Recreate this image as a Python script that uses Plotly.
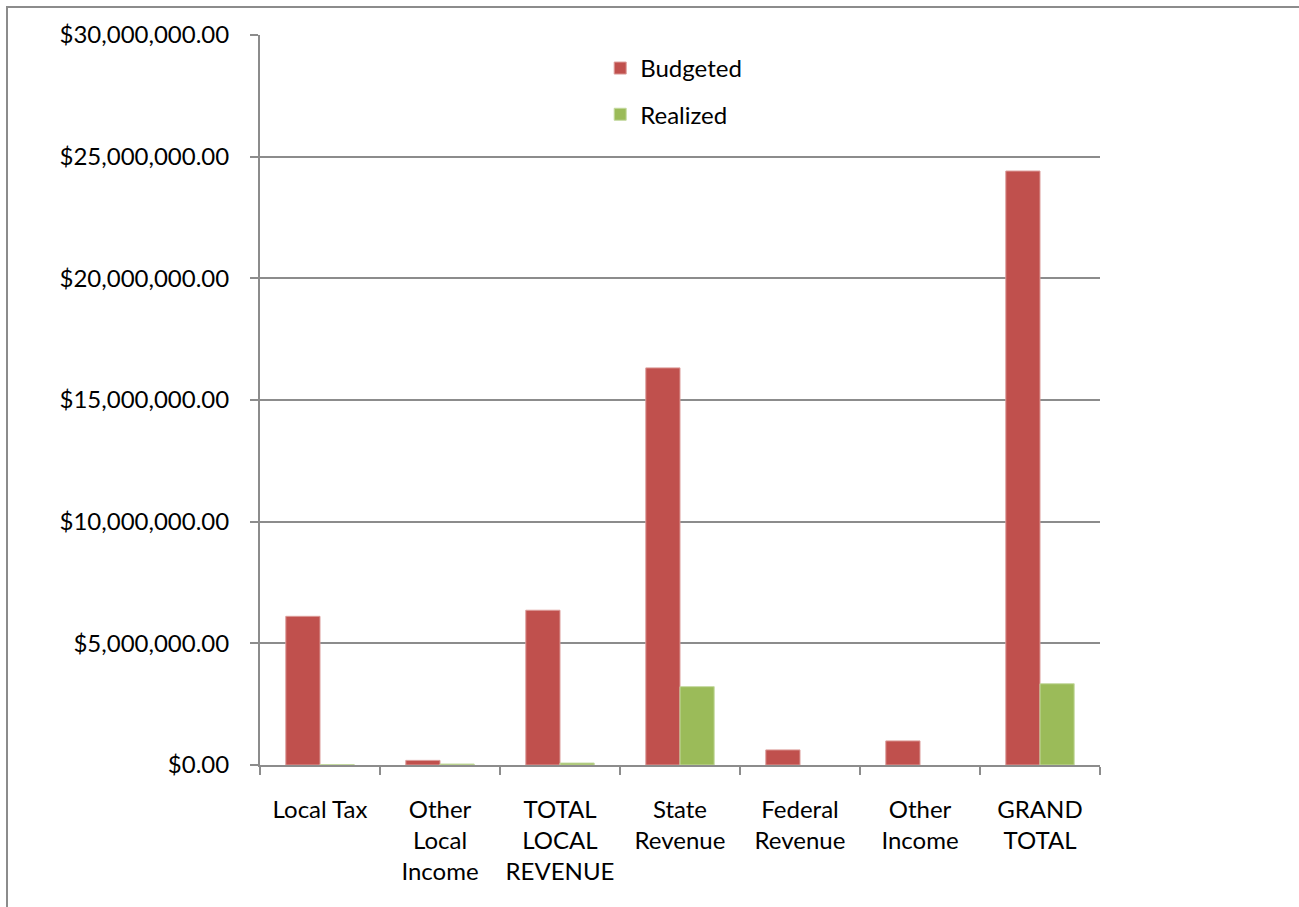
import plotly.graph_objects as go

categories = ["Local Tax", "Other<br>Local<br>Income", "TOTAL<br>LOCAL<br>REVENUE",
              "State<br>Revenue", "Federal<br>Revenue", "Other<br>Income", "GRAND<br>TOTAL"]
budgeted = [6110000, 190000, 6360000, 16320000, 620000, 990000, 24410000]
realized = [20000, 40000, 80000, 3220000, 0, 0, 3340000]
y_ticks = [0, 5000000, 10000000, 15000000, 20000000, 25000000, 30000000]

FONT = "Lato, 'Open Sans', sans-serif"
GRID = "#8c8c8c"

def edge_widths(vals):
    return [1 if v > 0 else 0 for v in vals]

fig = go.Figure()
fig.add_trace(go.Bar(x=categories, y=budgeted, name="Budgeted", legendgroup="a",
                     marker=dict(color="#C0504D",
                                 line=dict(color="#dc9b99", width=edge_widths(budgeted)))))
fig.add_trace(go.Bar(x=categories, y=realized, name="Realized", legendgroup="b",
                     marker=dict(color="#9BBB59",
                                 line=dict(color="#c4d9a0", width=edge_widths(realized)))))

fig.update_layout(
    width=1299, height=907,
    margin=dict(l=260, r=199, t=35, b=142, autoexpand=False),
    paper_bgcolor="white", plot_bgcolor="white",
    font=dict(family=FONT, size=24, color="black"),
    barmode="group", bargap=0.43, bargroupgap=0,
    showlegend=True,
    legend=dict(x=0.405, y=0.985, xanchor="left", yanchor="top",
                bgcolor="rgba(0,0,0,0)", tracegroupgap=12,
                font=dict(family=FONT, size=24)),
    xaxis=dict(showline=True, linecolor=GRID, linewidth=2, ticks="outside",
               tickson="boundaries", ticklen=8, tickcolor=GRID, tickwidth=2,
               ticklabelstandoff=22, showgrid=False),
    yaxis=dict(range=[0, 30000000], tickvals=y_ticks, tickformat="$,.2f",
               showline=True, linecolor=GRID, linewidth=2, ticks="outside",
               ticklen=8, tickcolor=GRID, tickwidth=2,
               showgrid=True, gridcolor=GRID, gridwidth=2, zeroline=False,
               ticklabelstandoff=16),
    shapes=[dict(type="rect", xref="paper", yref="paper",
                 x0=(7 - 260) / 840, x1=3, y0=-3, y1=(765 - 7) / 730,
                 line=dict(color=GRID, width=2), fillcolor="rgba(0,0,0,0)", layer="below")],
)

fig.write_html("out.html")
